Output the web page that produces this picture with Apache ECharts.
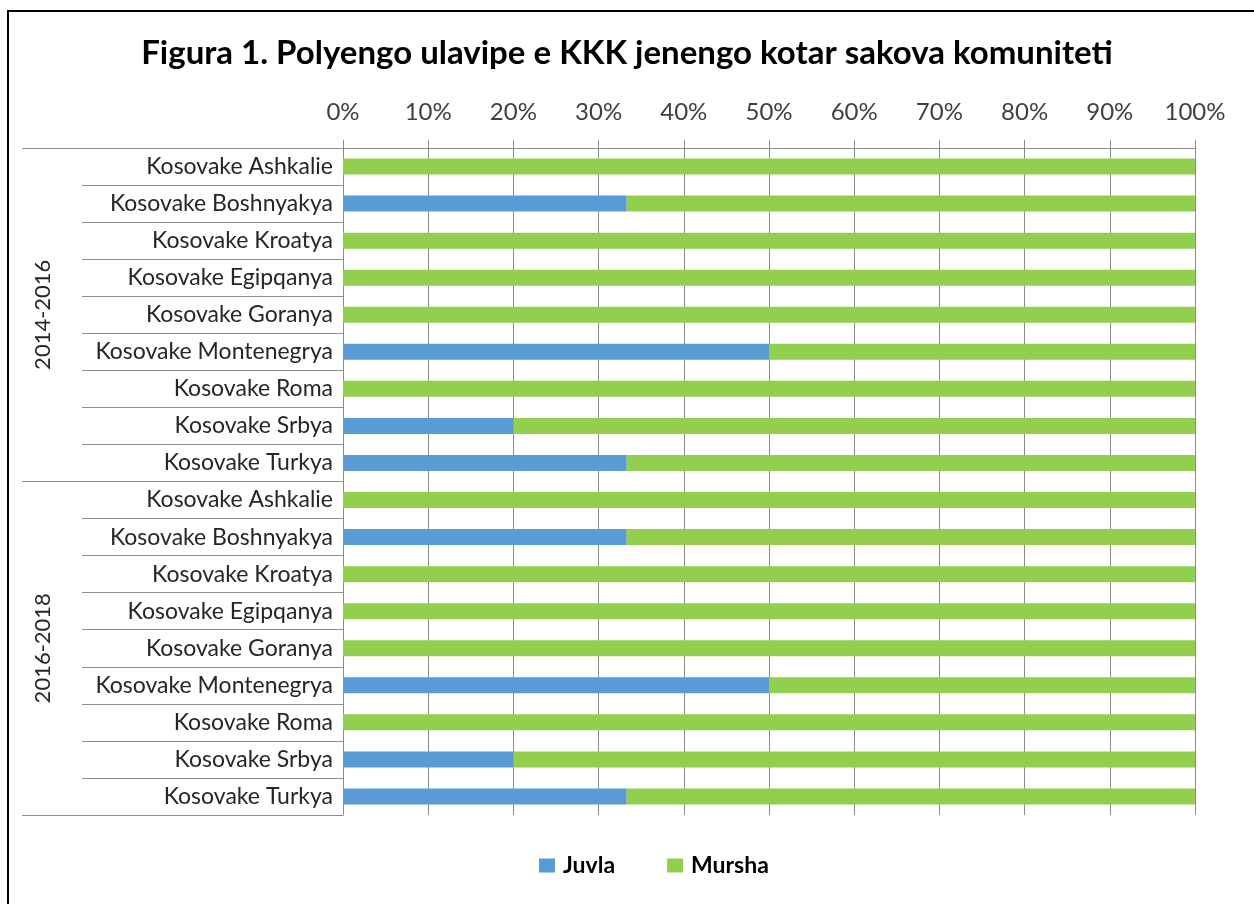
<!DOCTYPE html>
<html>
<head>
<meta charset="utf-8">
<title>Figura 1</title>
<script src="https://cdn.jsdelivr.net/npm/echarts@6/dist/echarts.min.js"></script>
<style>
  html, body { margin: 0; padding: 0; background: #fff; }
  #chart { width: 1254px; height: 904px; }
  /* the frame of the original picture: only top and left edges are visible */
  #frame { position: absolute; left: 7px; top: 10px; right: 0; bottom: 0;
           border-left: 2px solid #000; border-top: 2px solid #000; pointer-events: none; }
</style>
</head>
<body>
<div id="chart"></div>
<div id="frame"></div>
<script>
// periods and communities, as in the picture from top to bottom
var periods = ['2014-2016', '2016-2018'];
var communities = [
  'Kosovake Ashkalie', 'Kosovake Boshnyakya', 'Kosovake Kroatya',
  'Kosovake Egipqanya', 'Kosovake Goranya', 'Kosovake Montenegrya',
  'Kosovake Roma', 'Kosovake Srbya', 'Kosovake Turkya'
];
// share of women (Juvla) and men (Mursha), in percent
var juvla2014 = [0, 33.3, 0, 0, 0, 50, 0, 20, 33.3];
var mursha2014 = [100, 66.7, 100, 100, 100, 50, 100, 80, 66.7];
var juvla2016 = [0, 33.3, 0, 0, 0, 50, 0, 20, 33.3];
var mursha2016 = [100, 66.7, 100, 100, 100, 50, 100, 80, 66.7];

var categories = [];
periods.forEach(function (p) {
  communities.forEach(function (c) { categories.push(p + '|' + c); });
});
var juvla = juvla2014.concat(juvla2016);
var mursha = mursha2014.concat(mursha2016);

var gray = '#8c8c8c';
var font = 'Lato, "Open Sans", sans-serif';

var myChart = echarts.init(document.getElementById('chart'));
myChart.setOption({
  animation: false,
  textStyle: { fontFamily: font },
  title: {
    text: 'Figura 1. Polyengo ulavipe e KKK jenengo kotar sakova komuniteti',
    left: 'center',
    top: 32,
    textStyle: { fontSize: 33, fontWeight: 'bold', color: '#000', fontFamily: font }
  },
  legend: {
    bottom: 22,
    left: 534,
    itemWidth: 16,
    itemHeight: 14,
    itemGap: 52,
    icon: 'rect',
    textStyle: { fontSize: 23, fontWeight: 'bold', color: '#000', padding: [0, 0, 0, 3] },
    data: ['Juvla', 'Mursha']
  },
  grid: { left: 343, right: 59, top: 148, height: 667, containLabel: false },
  xAxis: {
    type: 'value',
    position: 'top',
    min: 0,
    max: 100,
    interval: 10,
    axisLine: { show: true, lineStyle: { color: gray } },
    axisTick: { show: true, length: 8, lineStyle: { color: gray } },
    splitLine: { show: true, lineStyle: { color: gray, width: 1 } },
    axisLabel: { formatter: '{value}%', fontSize: 24, color: '#404040', margin: 24 }
  },
  yAxis: [
    {
      type: 'category',
      inverse: true,
      data: categories,
      axisLine: { show: true, lineStyle: { color: gray } },
      axisTick: { show: true, length: 261, interval: 0, lineStyle: { color: gray } },
      axisLabel: {
        interval: 0,
        fontSize: 23,
        color: '#262626',
        margin: 10,
        formatter: function (v) { return v.split('|')[1]; }
      }
    },
    {
      type: 'category',
      inverse: true,
      position: 'left',
      offset: 0,
      data: periods,
      axisLine: { show: false },
      axisTick: { show: true, length: 321, interval: 0, lineStyle: { color: gray } },
      axisLabel: { rotate: 90, fontSize: 22, color: '#262626', margin: 289 }
    }
  ],
  series: [
    {
      name: 'Juvla',
      type: 'bar',
      stack: 'total',
      barWidth: 16,
      itemStyle: { color: '#5a9bd5' },
      data: juvla
    },
    {
      name: 'Mursha',
      type: 'bar',
      stack: 'total',
      barWidth: 16,
      itemStyle: { color: '#92cf4f' },
      data: mursha
    }
  ]
});
</script>
</body>
</html>
